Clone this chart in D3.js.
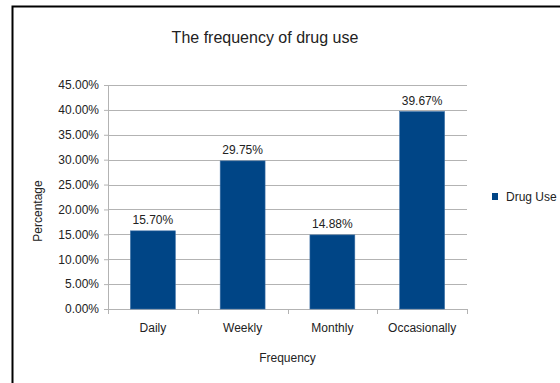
<!DOCTYPE html>
<html>
<head>
<meta charset="utf-8">
<script src="https://cdn.jsdelivr.net/npm/d3@7"></script>
<style>
  body { margin: 0; background: #fff; }
  text { font-family: "Liberation Sans Narrow", "Liberation Sans", Arial, sans-serif; fill: #222; }
</style>
</head>
<body>
<div id="chart"></div>
<script>
// data
var categories = ["Daily", "Weekly", "Monthly", "Occasionally"];
var drugUse = [15.70, 29.75, 14.88, 39.67];
var yTicks = [0, 5, 10, 15, 20, 25, 30, 35, 40, 45];

var svgWidth = 560;
var svgHeight = 383;

var margin = { top: 85, right: 93, bottom: 74, left: 108 };
var width = svgWidth - margin.left - margin.right;
var height = svgHeight - margin.top - margin.bottom;

var svg = d3.select("#chart")
  .append("svg")
  .attr("width", svgWidth)
  .attr("height", svgHeight);

// page frame and the cut "Figure" caption above it
svg.append("text")
  .attr("x", 14)
  .attr("y", 1)
  .style("font-family", "'Liberation Serif', serif")
  .style("font-size", "15px")
  .text("Figure 6:");

svg.append("rect")
  .attr("x", 0).attr("y", 0)
  .attr("width", svgWidth).attr("height", 5.5)
  .attr("fill", "#fff");

svg.append("path")
  .attr("d", "M12.5,383 V6.5 H560")
  .attr("fill", "none")
  .attr("stroke", "#000")
  .attr("stroke-width", 2);

var chartGroup = svg.append("g")
  .attr("transform", `translate(${margin.left}, ${margin.top})`);

var x = d3.scaleBand()
  .domain(categories)
  .range([0, width])
  .paddingInner(0.5)
  .paddingOuter(0.25);

var y = d3.scaleLinear()
  .domain([0, 45])
  .range([height, 0]);

// grid lines
chartGroup.append("g")
  .selectAll("line")
  .data(yTicks)
  .enter()
  .append("line")
  .attr("x1", 0)
  .attr("x2", width)
  .attr("y1", d => Math.round(y(d)) + 0.5)
  .attr("y2", d => Math.round(y(d)) + 0.5)
  .attr("stroke", "#b3b3b3");

// y axis
var leftAxis = d3.axisLeft(y)
  .tickValues(yTicks)
  .tickSize(4)
  .tickPadding(5)
  .tickFormat(d => d.toFixed(2) + "%");

var yAxis = chartGroup.append("g").call(leftAxis);
yAxis.select(".domain").attr("stroke", "#b3b3b3").attr("d", `M0.5,0V${height}`);
yAxis.selectAll(".tick line").attr("stroke", "#b3b3b3");
yAxis.selectAll(".tick text")
  .style("font-size", "12px")
  .attr("fill", "#222");

// x axis with ticks between categories
var bottomAxis = d3.axisBottom(x).tickSize(0).tickPadding(14);
var xAxis = chartGroup.append("g")
  .attr("transform", `translate(0, ${height})`)
  .call(bottomAxis);
xAxis.select(".domain").attr("stroke", "#b3b3b3").attr("d", `M0,0.5H${width}`);
xAxis.selectAll(".tick text")
  .style("font-size", "12px")
  .attr("fill", "#222");

var step = x.step();
chartGroup.append("g")
  .selectAll("line")
  .data(d3.range(categories.length + 1))
  .enter()
  .append("line")
  .attr("x1", i => Math.round(i * step) + 0.5)
  .attr("x2", i => Math.round(i * step) + 0.5)
  .attr("y1", height)
  .attr("y2", height + 5)
  .attr("stroke", "#b3b3b3");

// bars
chartGroup.selectAll(".bar")
  .data(drugUse)
  .enter()
  .append("rect")
  .attr("class", "bar")
  .attr("x", (d, i) => x(categories[i]))
  .attr("y", d => y(d))
  .attr("width", x.bandwidth())
  .attr("height", d => height - y(d))
  .attr("fill", "#004586")
  .attr("stroke", "#3a6ea5")
  .attr("stroke-width", 0.6);

// value labels
chartGroup.selectAll(".val")
  .data(drugUse)
  .enter()
  .append("text")
  .attr("class", "val")
  .attr("x", (d, i) => x(categories[i]) + x.bandwidth() / 2)
  .attr("y", d => y(d) - 7)
  .attr("text-anchor", "middle")
  .style("font-size", "12px")
  .text(d => d.toFixed(2) + "%");

// title
svg.append("text")
  .attr("x", 265)
  .attr("y", 43)
  .attr("text-anchor", "middle")
  .style("font-size", "16px")
  .text("The frequency of drug use");

// axis titles
svg.append("text")
  .attr("x", margin.left + width / 2)
  .attr("y", 362)
  .attr("text-anchor", "middle")
  .style("font-size", "12px")
  .text("Frequency");

svg.append("text")
  .attr("transform", `translate(42, 211) rotate(-90)`)
  .attr("text-anchor", "middle")
  .style("font-size", "12px")
  .text("Percentage");

// legend
var legend = svg.append("g").attr("transform", "translate(492, 193)");
legend.append("rect")
  .attr("width", 6).attr("height", 7)
  .attr("fill", "#004586");
legend.append("text")
  .attr("x", 14)
  .attr("y", 8)
  .style("font-size", "12px")
  .text("Drug Use");
</script>
</body>
</html>
